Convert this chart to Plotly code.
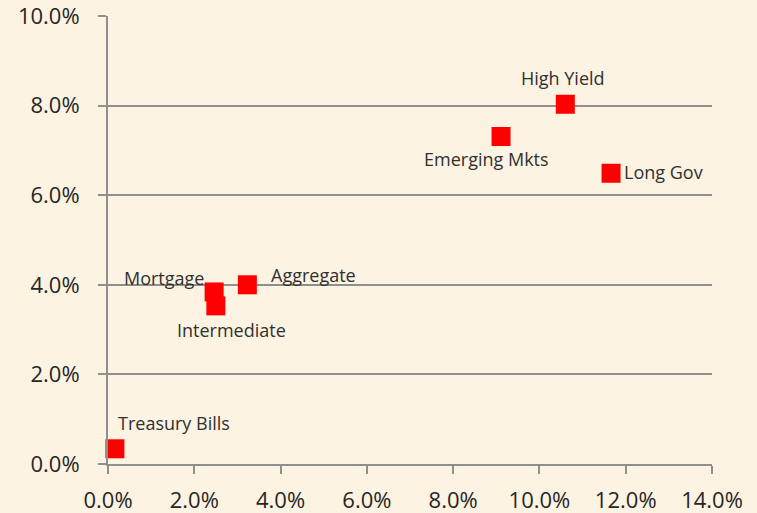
import plotly.graph_objects as go

names = ["Treasury Bills", "Mortgage", "Intermediate", "Aggregate",
         "High Yield", "Emerging Mkts", "Long Gov"]
risk = [0.16, 2.46, 2.50, 3.23, 10.60, 9.11, 11.66]
ret = [0.34, 3.84, 3.53, 4.00, 8.03, 7.31, 6.49]

x_ticks = [0, 2, 4, 6, 8, 10, 12, 14]
y_ticks = [0, 2, 4, 6, 8, 10]

# label placement (style): xanchor, yanchor, xshift, yshift
label_pos = {
    "Treasury Bills": ("left", "middle", 1, 26),
    "Mortgage": ("right", "middle", -8, 14),
    "Intermediate": ("center", "middle", 16, -24),
    "Aggregate": ("left", "middle", 22, 10),
    "High Yield": ("center", "middle", -2, 26),
    "Emerging Mkts": ("center", "middle", -15, -22),
    "Long Gov": ("left", "middle", 11, 1),
}

font_family = "Open Sans, Noto Sans, sans-serif"
bg = "#FCF3E2"
grid = "#8F8F8F"

fig = go.Figure()
fig.add_trace(go.Scatter(
    x=risk, y=ret, mode="markers",
    marker=dict(symbol="square", size=19, color="#FF0000", line=dict(width=0)),
    hoverinfo="text", text=names, showlegend=False, cliponaxis=False,
))

for n, xv, yv in zip(names, risk, ret):
    xa, ya, xs, ys = label_pos[n]
    fig.add_annotation(x=xv, y=yv, text=n, showarrow=False,
                       xanchor=xa, yanchor=ya, xshift=xs, yshift=ys,
                       font=dict(family=font_family, size=18, color="#303030"))

fig.update_xaxes(
    range=[0, 14], tickvals=x_ticks,
    ticktext=[f"{v:.1f}%" for v in x_ticks],
    showgrid=False, zeroline=False, automargin=False,
    showline=True, linecolor=grid, linewidth=2,
    ticks="outside", ticklen=8, tickwidth=2, tickcolor=grid,
    tickfont=dict(family=font_family, size=22, color="#262626"),
    ticklabelstandoff=8, ticklabeloverflow="allow",
)
fig.update_yaxes(
    range=[0, 10], tickvals=y_ticks,
    ticktext=[f"{v:.1f}%" for v in y_ticks],
    showgrid=True, gridcolor=grid, gridwidth=2, zeroline=False, automargin=False,
    showline=True, linecolor=grid, linewidth=2,
    ticks="outside", ticklen=8, tickwidth=2, tickcolor=grid,
    tickfont=dict(family=font_family, size=22, color="#262626"),
    ticklabelstandoff=14, ticklabeloverflow="allow",
)
fig.update_layout(
    width=757, height=513,
    margin=dict(l=108, r=45, t=16, b=49),
    paper_bgcolor=bg, plot_bgcolor=bg,
)
fig.write_html(
    "out.html",
    config={"displayModeBar": False},
    post_script="document.body.style.margin='0';"
                "document.body.style.overflow='hidden';"
                "document.body.style.background='" + bg + "';",
)
